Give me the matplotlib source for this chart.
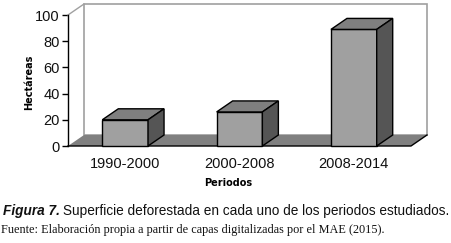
import matplotlib
matplotlib.use("Agg")
import matplotlib.pyplot as plt
from matplotlib.patches import Polygon

# data
periodos = ["1990-2000", "2000-2008", "2008-2014"]
hectareas = [20, 26, 89]
yticks = [0, 20, 40, 60, 80, 100]

W, H = 452, 243
fig = plt.figure(figsize=(W / 100, H / 100), dpi=100)
ax = fig.add_axes([68 / W, 97 / H, 343 / W, 131 / H])
ax.set_xlim(-0.5, 2.5)
ax.set_ylim(0, 100)

# depth of the 3d effect in data units
dx, dy = 0.14, 8.4
bw = 0.4


def poly(pts, fc, ec, lw=1.0, z=1):
    ax.add_patch(Polygon(pts, closed=True, fc=fc, ec=ec, lw=lw, zorder=z,
                         clip_on=False, joinstyle="miter"))


x0, x1 = -0.5, 2.5
# back wall
poly([(x0 + dx, dy), (x0 + dx, 100 + dy), (x1 + dx, 100 + dy), (x1 + dx, dy)],
     "white", "#a0a0a0", 1.2)
ax.plot([x0, x0 + dx], [100, 100 + dy], color="#a0a0a0", lw=1.0, clip_on=False)
# floor
poly([(x0, 0), (x1, 0), (x1 + dx, dy), (x0 + dx, dy)], "#808080", "none", 0, 2)
ax.plot([x0, x1, x1 + dx], [0, 0, dy], color="black", lw=1.0, clip_on=False, zorder=3)

# bars
for i, v in enumerate(hectareas):
    l, r = i - bw / 2, i + bw / 2
    poly([(l, 0), (r, 0), (r, v), (l, v)], "#a0a0a0", "black", 1.0, 4)
    poly([(l, v), (r, v), (r + dx, v + dy), (l + dx, v + dy)], "#7f7f7f", "black", 1.0, 4)
    poly([(r, 0), (r + dx, dy), (r + dx, v + dy), (r, v)], "#555555", "black", 1.0, 4)

for s in ["top", "right", "bottom"]:
    ax.spines[s].set_visible(False)
ax.spines["left"].set_linewidth(1.0)
ax.spines["left"].set_zorder(5)
ax.set_yticks(yticks)
ax.set_xticks(range(len(periodos)))
ax.set_xticklabels(periodos)
ax.tick_params(axis="y", length=4, width=1.0, labelsize=10.5, pad=2)
ax.tick_params(axis="x", length=0, labelsize=10.5, pad=8)
for t in ax.get_xticklabels() + ax.get_yticklabels():
    t.set_fontfamily("Liberation Sans")
    t.set_color("#111111")

fig.text(29 / W, 1 - 82 / H, "Hectáreas", rotation=90, ha="center", va="center",
         fontsize=7, fontweight="bold", family="DejaVu Sans")
fig.text(228 / W, 1 - 183 / H, "Periodos", ha="center", va="center",
         fontsize=7, fontweight="bold", family="DejaVu Sans")

t1 = fig.text(3 / W, 1 - 211 / H, "Figura 7.", ha="left", va="center",
              fontsize=9.8, fontweight="bold", fontstyle="italic",
              family="Liberation Sans", color="#111111")
fig.canvas.draw()
bb = t1.get_window_extent()
fig.text((bb.x1 + 3) / W, 1 - 211 / H,
         "Superficie deforestada en cada uno de los periodos estudiados.",
         ha="left", va="center", fontsize=9.8, family="Liberation Sans",
         color="#111111")
fig.text(1 / W, 1 - 230 / H,
         "Fuente: Elaboración propia a partir de capas digitalizadas por el MAE (2015).",
         ha="left", va="center", fontsize=8.8, family="Liberation Serif",
         color="#111111")

fig.savefig("out.png", dpi=100)
